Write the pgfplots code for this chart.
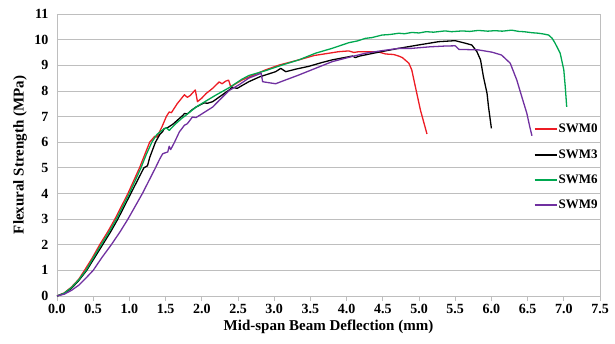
\documentclass[border=0pt]{standalone}
\usepackage{pgfplots}
\pgfplotsset{compat=1.18}
\usepackage{fontspec}
\setmainfont{Liberation Serif}
\definecolor{cred}{RGB}{237,28,36}
\definecolor{cgreen}{RGB}{0,168,80}
\definecolor{cpurple}{RGB}{112,48,160}
\definecolor{gridgray}{RGB}{190,190,190}
\begin{document}
\begin{tikzpicture}
\begin{axis}[name=ax, scale only axis, width=543pt, height=282pt,
  xmin=0, xmax=7.5, ymin=0, ymax=11,
  xtick={0,0.5,...,7.5}, ytick={0,1,...,11},
  xticklabel style={/pgf/number format/.cd, fixed, fixed zerofill, precision=1},
  /pgf/number format/assume math mode=true,
  tick label style={font=\fontsize{14}{16}\selectfont\bfseries},
  ymajorgrids, grid style={color=gridgray, line width=0.8pt},
  axis line style={gridgray, line width=0.8pt},
  tick pos=left, tick align=outside, major tick length=5pt,
  xtick style={gridgray, line width=0.8pt}, ytick style={draw=none},
  xlabel={Mid-span Beam Deflection (mm)},
  ylabel={Flexural Strength (MPa)},
  label style={font=\fontsize{15}{17}\selectfont\bfseries},
  xlabel style={at={(axis description cs:0.5,-0.11)}, anchor=center},
  ylabel style={at={(axis description cs:-0.068,0.5)}, anchor=center},
  legend style={at={(rel axis cs:0.998,0.613)}, anchor=north east, draw=none, fill=none,
    font=\fontsize{13}{15}\selectfont\bfseries, row sep=13pt, inner sep=0pt,
    nodes={inner sep=1pt}},
  legend cell align=left,
  legend image code/.code={\draw[#1, line width=2pt] (0pt,0pt) -- (22pt,0pt);},
  every axis plot/.append style={line width=1.3pt, line join=round},
]
\addplot[cred] coordinates {
(0,0) (0.1,0.12) (0.2,0.35) (0.3,0.65) (0.38,1.0) (0.48,1.45) (0.59,2.0) (0.70,2.5) (0.80,3.0) (0.89,3.5) (0.98,4.0) (1.06,4.5) (1.14,5.0) (1.21,5.5) (1.28,6.0) (1.35,6.23) (1.38,6.2) (1.45,6.6) (1.51,7.0) (1.55,7.18) (1.58,7.15) (1.66,7.5) (1.76,7.85) (1.80,7.75) (1.84,7.82) (1.91,8.04) (1.94,7.58) (2.00,7.72) (2.06,7.9) (2.15,8.1) (2.24,8.35) (2.28,8.28) (2.33,8.38) (2.37,8.42) (2.40,8.16) (2.48,8.3) (2.56,8.43) (2.70,8.6) (2.88,8.82) (3.07,9.01) (3.34,9.21) (3.55,9.38) (3.71,9.45) (3.89,9.53) (4.03,9.56) (4.10,9.5) (4.17,9.53) (4.44,9.52) (4.54,9.44) (4.65,9.42) (4.72,9.36) (4.77,9.3) (4.86,9.08) (4.90,8.82) (4.95,8.16) (5.02,7.25) (5.11,6.32)
};
\addlegendentry{SWM0}
\addplot[black] coordinates {
(0,0) (0.1,0.1) (0.2,0.3) (0.3,0.6) (0.41,1.0) (0.52,1.5) (0.63,2.0) (0.74,2.5) (0.84,3.0) (0.93,3.5) (1.02,4.0) (1.11,4.5) (1.20,5.0) (1.25,5.08) (1.28,5.4) (1.36,6.0) (1.42,6.3) (1.46,6.42) (1.48,6.53) (1.53,6.57) (1.60,6.7) (1.68,6.9) (1.74,7.05) (1.76,7.12) (1.80,7.1) (1.86,7.25) (1.92,7.37) (2.03,7.53) (2.08,7.52) (2.15,7.58) (2.24,7.76) (2.38,8.04) (2.42,8.14) (2.49,8.10) (2.55,8.2) (2.65,8.36) (2.80,8.55) (3.02,8.75) (3.09,8.88) (3.16,8.75) (3.30,8.85) (3.48,8.96) (3.65,9.1) (3.80,9.21) (4.08,9.36) (4.12,9.30) (4.18,9.36) (4.44,9.51) (4.72,9.66) (4.99,9.79) (5.27,9.92) (5.50,9.96) (5.64,9.86) (5.73,9.79) (5.80,9.53) (5.85,9.21) (5.89,8.55) (5.94,7.9) (5.96,7.38) (6.00,6.54)
};
\addlegendentry{SWM3}
\addplot[cgreen] coordinates {
(0,0) (0.1,0.11) (0.2,0.33) (0.3,0.63) (0.40,1.0) (0.50,1.48) (0.61,2.0) (0.72,2.5) (0.82,3.0) (0.91,3.5) (1.0,4.0) (1.08,4.5) (1.16,5.0) (1.23,5.5) (1.31,6.0) (1.38,6.3) (1.46,6.48) (1.51,6.56) (1.55,6.46) (1.64,6.72) (1.72,6.92) (1.78,7.05) (1.92,7.37) (2.06,7.61) (2.19,7.83) (2.38,8.13) (2.55,8.45) (2.65,8.6) (2.88,8.79) (3.11,9.01) (3.34,9.21) (3.57,9.47) (3.80,9.66) (4.03,9.88) (4.15,9.95) (4.26,10.05) (4.35,10.08) (4.49,10.18) (4.6,10.2) (4.72,10.25) (4.8,10.23) (4.90,10.28) (5.0,10.26) (5.10,10.31) (5.2,10.29) (5.36,10.34) (5.45,10.31) (5.6,10.34) (5.7,10.32) (5.82,10.36) (5.95,10.33) (6.05,10.35) (6.15,10.33) (6.28,10.37) (6.38,10.32) (6.45,10.31) (6.56,10.27) (6.65,10.25) (6.72,10.22) (6.79,10.18) (6.84,10.05) (6.88,9.86) (6.95,9.47) (7.00,8.82) (7.02,8.16) (7.04,7.38)
};
\addlegendentry{SWM6}
\addplot[cpurple] coordinates {
(0,0) (0.1,0.07) (0.2,0.22) (0.3,0.42) (0.4,0.7) (0.50,1.0) (0.62,1.5) (0.75,2.0) (0.87,2.5) (0.98,3.0) (1.08,3.5) (1.18,4.0) (1.27,4.5) (1.36,5.0) (1.42,5.35) (1.46,5.55) (1.53,5.62) (1.55,5.84) (1.57,5.71) (1.62,5.98) (1.69,6.4) (1.76,6.66) (1.80,6.72) (1.87,6.98) (1.92,6.96) (2.01,7.12) (2.15,7.37) (2.24,7.63) (2.38,8.02) (2.52,8.25) (2.65,8.5) (2.82,8.69) (2.84,8.36) (2.88,8.34) (3.02,8.28) (3.16,8.43) (3.34,8.62) (3.57,8.88) (3.80,9.14) (4.03,9.31) (4.26,9.47) (4.49,9.57) (4.72,9.66) (4.90,9.66) (5.15,9.72) (5.36,9.75) (5.50,9.76) (5.55,9.62) (5.82,9.60) (6.01,9.51) (6.14,9.40) (6.26,9.08) (6.35,8.43) (6.42,7.77) (6.49,7.12) (6.53,6.6) (6.56,6.25)
};
\addlegendentry{SWM9}
\end{axis}
\pgfresetboundingbox
\path[use as bounding box] ([xshift=-57pt,yshift=-47pt]ax.south west) rectangle ([xshift=15pt,yshift=14pt]ax.north east);
\end{tikzpicture}
\end{document}
